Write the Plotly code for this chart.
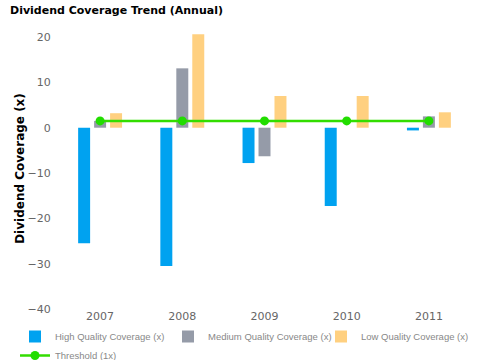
import plotly.graph_objects as go

years = ["2007", "2008", "2009", "2010", "2011"]
high_quality = [-25.5, -30.5, -7.8, -17.3, -0.6]
medium_quality = [1.5, 13.1, -6.3, None, 2.5]
low_quality = [3.2, 20.6, 7.0, 7.0, 3.4]
threshold = [1.5, 1.5, 1.5, 1.5, 1.5]
y_ticks = [-40, -30, -20, -10, 0, 10, 20]

font_family = "DejaVu Sans"

fig = go.Figure()
fig.add_trace(go.Bar(x=years, y=high_quality, name="High Quality Coverage (x)",
                     marker=dict(color="#00A2F0", line=dict(width=0))))
fig.add_trace(go.Bar(x=years, y=medium_quality, name="Medium Quality Coverage (x)",
                     marker=dict(color="#959BA8", line=dict(width=0))))
fig.add_trace(go.Bar(x=years, y=low_quality, name="Low Quality Coverage (x)",
                     marker=dict(color="#FFD080", line=dict(width=0))))
fig.add_trace(go.Scatter(x=years, y=threshold, name="Threshold (1x)", mode="lines+markers",
                         line=dict(color="#33DD00", width=2.5),
                         marker=dict(color="#22DD00", size=9)))

fig.update_layout(
    width=480, height=360,
    margin=dict(l=59, r=10, t=28, b=51, autoexpand=False),
    paper_bgcolor="white", plot_bgcolor="white",
    barmode="group", bargap=0.417, bargroupgap=0.25,
    font=dict(family=font_family, size=11, color="#666666"),
    title=dict(text="<b>Dividend Coverage Trend (Annual)</b>", x=10/480, xref="container",
               xanchor="left", y=1-10/360, yref="container", yanchor="middle", pad=dict(l=0),
               font=dict(family=font_family, size=11, color="black")),
    xaxis=dict(type="category", range=[-0.5, 4.5], showgrid=False, zeroline=False,
               showline=False, ticks="", ticklabelstandoff=-1,
               automargin=False, tickfont=dict(size=11, color="#666666")),
    yaxis=dict(range=[-40, 22], tickvals=y_ticks, showgrid=False, zeroline=False,
               showline=False, ticks="outside", ticklen=5, tickcolor="white",
               automargin=False, tickfont=dict(size=11, color="#666666"),
               title=dict(text="<b>Dividend Coverage (x)</b>", standoff=0,
                          font=dict(family=font_family, size=12, color="black"))),
    legend=dict(orientation="h", x=-(59-15)/411, xanchor="left",
                y=-(322-309)/281, yanchor="top",
                font=dict(family="Liberation Sans", size=9.5, color="#888888"), entrywidth=108,
                tracegroupgap=0, itemwidth=30, bgcolor="rgba(0,0,0,0)"),
    showlegend=True,
)

fig.write_html("out.html", config={"displayModeBar": False},
               post_script="document.body.style.margin='0';")
